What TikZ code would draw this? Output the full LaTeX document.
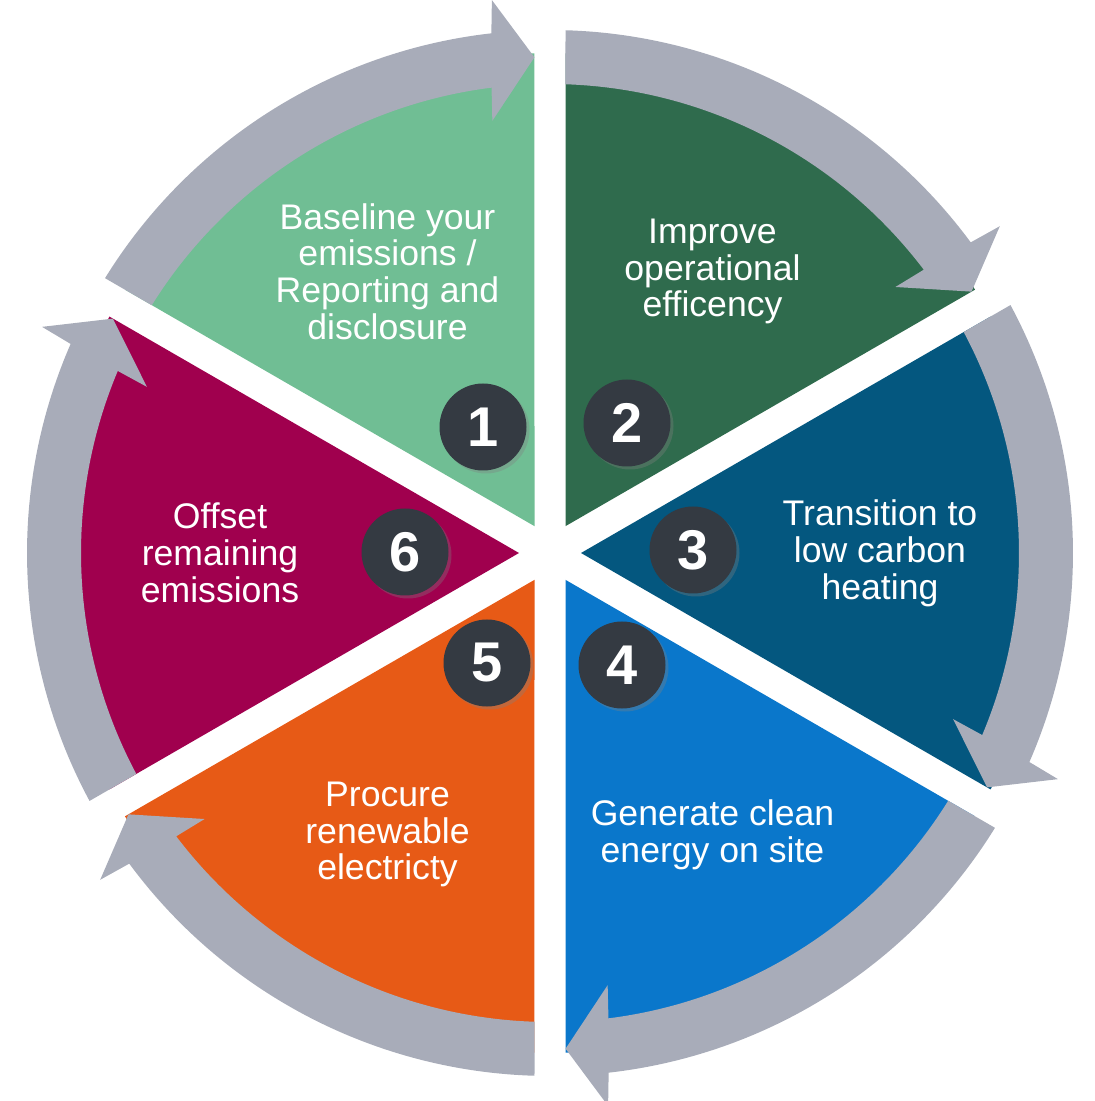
\documentclass[tikz,border=0pt]{standalone}
\usepackage{fontspec}
\setmainfont{Liberation Sans}
\usetikzlibrary{shadows}

\definecolor{stepone}{HTML}{70BE94}
\definecolor{steptwo}{HTML}{2F6B4D}
\definecolor{stepthree}{HTML}{04577F}
\definecolor{stepfour}{HTML}{0A77CB}
\definecolor{stepfive}{HTML}{E75A16}
\definecolor{stepsix}{HTML}{A0004E}
\definecolor{bandgray}{HTML}{A8ACB9}
\definecolor{discgray}{HTML}{343A42}

\tikzset{
	band/.style={fill=bandgray},
	steptext/.style={align=center, text=white, font=\fontsize{17.8}{18.4}\selectfont},
	numdisc/.style={circle, fill=discgray, minimum size=43.5pt, inner sep=0pt, text=white,
		font=\bfseries\fontsize{28}{28}\selectfont,
		drop shadow={shadow xshift=1.5pt, shadow yshift=-1.5pt, opacity=0.35}}
}

\begin{document}
\begin{tikzpicture}[x=0.5pt, y=0.5pt]
	\useasboundingbox (-550,-548) rectangle (544,553);
	\foreach \a/\col in {90/stepone, 30/steptwo, -30/stepthree, -90/stepfour, -150/stepfive, 150/stepsix}
		\fill[\col] (\a+30:31) -- (\a+1.78:500) arc[start angle=\a+1.78, end angle=\a+58.22, radius=500] -- cycle;
	\foreach \a in {90, 30, -30, -90, -150, 150}
		\fill[band] (\a+58.3:523) arc[start angle=\a+58.3, end angle=\a+6.44, radius=523] -- (\a+6:556) -- (\a+1.8:496)
			-- (\a+7.6:436) -- (\a+7.16:469) arc[start angle=\a+7.16, end angle=\a+58.11, radius=469] -- cycle;
	\node[steptext] (baseline) at (120:325) {Baseline your\\emissions /\\Reporting and\\disclosure};
	\node[steptext] (improve) at (60:325) {Improve\\operational\\efficency};
	\node[steptext] (transition) at (0:330) {Transition to\\low carbon\\heating};
	\node[steptext] (generate) at (-60:325) {Generate clean\\energy on site};
	\node[steptext] (procure) at (-120:325) {Procure\\renewable\\electricty};
	\node[steptext] (offset) at (180:330) {Offset\\remaining\\emissions};
	\node[numdisc] (one) at (-67,126) {1};
	\node[numdisc] (two) at (77,130) {2};
	\node[numdisc] (three) at (143,3) {3};
	\node[numdisc] (four) at (72,-112) {4};
	\node[numdisc] (five) at (-63,-110) {5};
	\node[numdisc] (six) at (-145,1) {6};
\end{tikzpicture}
\end{document}
